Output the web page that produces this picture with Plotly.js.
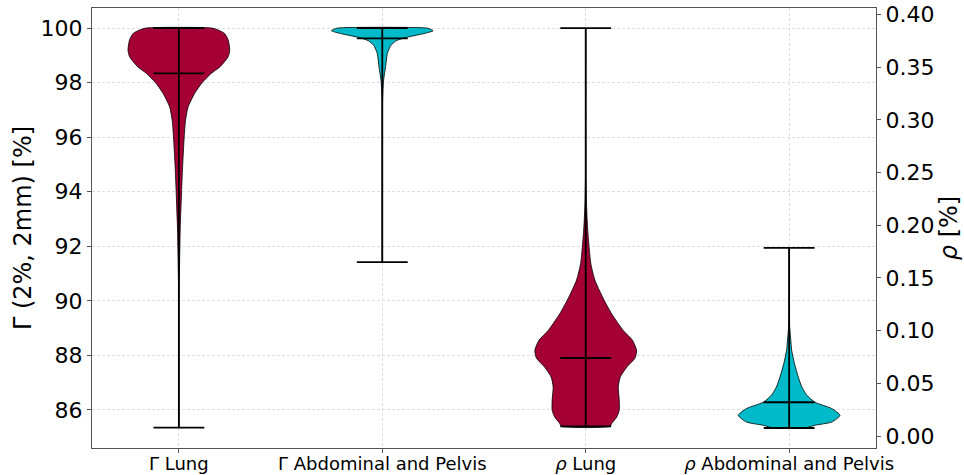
<!DOCTYPE html>
<html>
<head>
<meta charset="utf-8">
<script src="https://cdn.plot.ly/plotly-3.0.1.min.js"></script>
<style>html,body{margin:0;padding:0;background:#fff;}#chart{width:964px;height:475px;}</style>
</head>
<body>
<div id="chart"></div>
<script>
// Category labels and positions
const categories = ["Γ Lung", "Γ Abdominal and Pelvis", "<i>ρ</i> Lung", "<i>ρ</i> Abdominal and Pelvis"];
const positions = [1, 2, 3, 4];

// Density profiles (value levels, relative half-width)
const gLungY = [100, 99.93, 99.8, 99.56, 99.19, 98.95, 98.58, 98.34, 98.0, 97.6, 97.1, 96.6, 96.0, 94.9, 94.0, 92.6, 92.0, 91.0, 90.3, 89.0, 85.35];
const gLungW = [0.64, 0.77, 0.90, 0.97, 1.0, 0.97, 0.81, 0.64, 0.46, 0.31, 0.18, 0.13, 0.105, 0.073, 0.053, 0.026, 0.02, 0.01, 0.003, 0, 0];

const gAbdY = [100, 99.95, 99.9, 99.81, 99.66, 99.54, 99.37, 99.07, 98.58, 98.1, 97.5, 97.0, 91.42];
const gAbdW = [0.87, 0.96, 1.0, 0.85, 0.48, 0.28, 0.17, 0.10, 0.065, 0.026, 0.008, 0.002, 0];

const rLungY = [0.387, 0.30, 0.249, 0.22, 0.195, 0.1637, 0.148, 0.132, 0.116, 0.100, 0.0908, 0.0813, 0.074, 0.0655, 0.056, 0.0465, 0.0339, 0.0244, 0.018, 0.0118, 0.0092];
const rLungW = [0, 0, 0.003, 0.015, 0.04, 0.1, 0.18, 0.33, 0.51, 0.74, 0.92, 1.0, 0.97, 0.81, 0.68, 0.64, 0.66, 0.66, 0.61, 0.51, 0.48];

const rAbdY = [0.1785, 0.12, 0.1035, 0.0908, 0.0813, 0.0687, 0.056, 0.0465, 0.0386, 0.032, 0.026, 0.0196, 0.0133, 0.0102, 0.0076];
const rAbdW = [0, 0.002, 0.01, 0.033, 0.05, 0.105, 0.18, 0.25, 0.35, 0.51, 0.84, 1.0, 0.84, 0.51, 0.31];

// Summary statistics
const mins  = [85.35, 91.42, 0.0092, 0.0076];
const maxes = [100, 100, 0.387, 0.1785];
const means = [98.34, 99.62, 0.074, 0.032];

const colors = ["#A40035", "#00BAC9", "#A40035", "#00BAC9"];
const axesOf = ["y", "y", "y2", "y2"];

const violinWidth = 0.5;
const profiles = [[gLungY, gLungW], [gAbdY, gAbdW], [rLungY, rLungW], [rAbdY, rAbdW]];

const traces = [];
profiles.forEach(([Y, W], i) => {
  const p = positions[i];
  const half = violinWidth / 2;
  const xs = [], ys = [];
  for (let k = 0; k < Y.length; k++) { xs.push(p + half * W[k]); ys.push(Y[k]); }
  for (let k = Y.length - 1; k >= 0; k--) { xs.push(p - half * W[k]); ys.push(Y[k]); }
  xs.push(xs[0]); ys.push(ys[0]);
  traces.push({
    type: "scatter", mode: "lines", x: xs, y: ys, yaxis: axesOf[i],
    fill: "toself", fillcolor: colors[i],
    line: {color: "#000", width: 0.8, shape: "spline", smoothing: 0.6},
    hoverinfo: "skip", showlegend: false
  });
});
// Statistic lines
positions.forEach((p, i) => {
  const cap = violinWidth / 4;
  const lx = [p, p, null, p - cap, p + cap, null, p - cap, p + cap, null, p - cap, p + cap];
  const ly = [mins[i], maxes[i], null, mins[i], mins[i], null, maxes[i], maxes[i], null, means[i], means[i]];
  traces.push({
    type: "scatter", mode: "lines", x: lx, y: ly, yaxis: axesOf[i],
    line: {color: "#000", width: 1.8}, hoverinfo: "skip", showlegend: false, connectgaps: false
  });
});

const font = "DejaVu Sans, sans-serif";
const layout = {
  width: 964, height: 475,
  margin: {l: 92, r: 88, t: 8, b: 27},
  paper_bgcolor: "#fff", plot_bgcolor: "#fff",
  showlegend: false,
  font: {family: font, color: "#000"},
  xaxis: {
    range: [0.573, 4.427], tickmode: "array", tickvals: positions, ticktext: categories,
    tickfont: {size: 18, family: font}, ticks: "outside", ticklen: 4, tickcolor: "#555",
    ticklabelstandoff: -5,
    showgrid: true, gridcolor: "#d6d6d6", gridwidth: 0.8, griddash: "3px,2px",
    showline: true, linecolor: "#555", linewidth: 1, mirror: true, zeroline: false
  },
  yaxis: {
    range: [84.606, 100.734], tickvals: [86, 88, 90, 92, 94, 96, 98, 100],
    tickfont: {size: 22, family: font}, ticks: "outside", ticklen: 4, tickcolor: "#555",
    showgrid: true, gridcolor: "#d6d6d6", gridwidth: 0.8, griddash: "3px,2px",
    showline: true, linecolor: "#555", linewidth: 1, zeroline: false,
    title: {text: "Γ (2%, 2mm) [%]", font: {size: 24, family: font}, standoff: 2}
  },
  yaxis2: {
    overlaying: "y", side: "right",
    range: [-0.01139, 0.4061], tickvals: [0, 0.05, 0.10, 0.15, 0.20, 0.25, 0.30, 0.35, 0.40],
    tickformat: ".2f",
    tickfont: {size: 22, family: font}, ticks: "outside", ticklen: 4, tickcolor: "#555",
    showgrid: false, showline: true, linecolor: "#555", linewidth: 1, zeroline: false,
    title: {text: "<i>ρ</i> [%]", font: {size: 24, family: font}, standoff: 6}
  }
};

Plotly.newPlot("chart", traces, layout, {staticPlot: true, displayModeBar: false});
</script>
</body>
</html>
